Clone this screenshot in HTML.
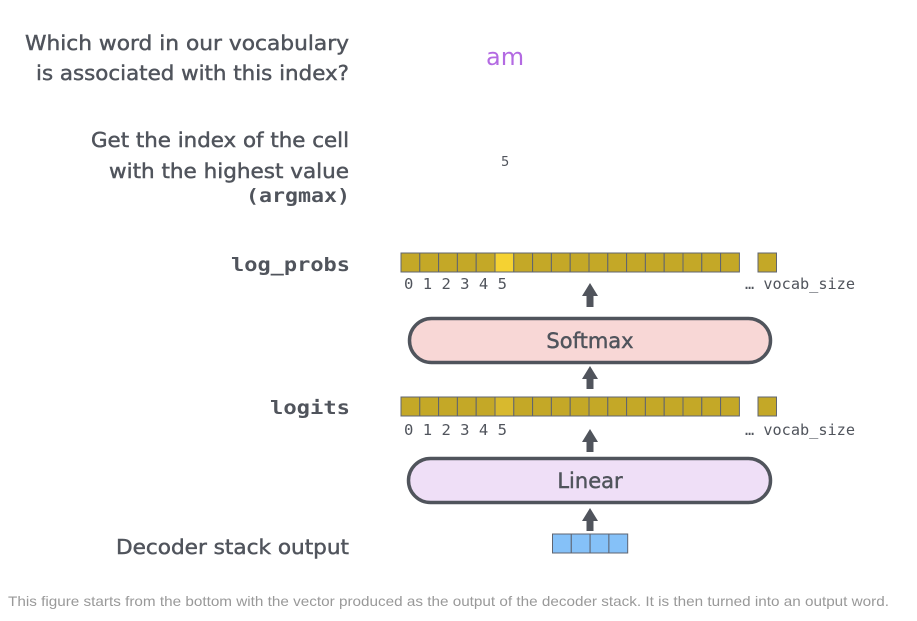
<!DOCTYPE html>
<html><head><meta charset="utf-8"><style>
html,body{margin:0;padding:0;background:#fff;width:917px;height:621px;overflow:hidden}
</style></head><body>
<svg width="917" height="621" viewBox="0 0 917 621" xmlns="http://www.w3.org/2000/svg">
<g font-family="'DejaVu Sans', sans-serif" fill="#50545c" stroke="#50545c" stroke-width="0.45" font-size="20" text-anchor="end">
<text x="349" y="50" textLength="324" lengthAdjust="spacingAndGlyphs">Which word in our vocabulary</text>
<text x="349" y="80" textLength="313" lengthAdjust="spacingAndGlyphs">is associated with this index?</text>
<text x="349" y="147" textLength="258" lengthAdjust="spacingAndGlyphs">Get the index of the cell</text>
<text x="349" y="178" textLength="240" lengthAdjust="spacingAndGlyphs">with the highest value</text>
<text x="349" y="554" textLength="233" lengthAdjust="spacingAndGlyphs">Decoder stack output</text>
</g>
<g font-family="'DejaVu Sans Mono','Liberation Mono',monospace" font-weight="bold" fill="#50545c" font-size="19" text-anchor="end">
<text x="350" y="202" textLength="104" lengthAdjust="spacingAndGlyphs">(argmax)</text>
<text x="350" y="271" textLength="119" lengthAdjust="spacingAndGlyphs">log_probs</text>
<text x="350" y="414" textLength="80" lengthAdjust="spacingAndGlyphs">logits</text>
</g>
<text x="486" y="65" font-family="'DejaVu Sans',sans-serif" font-size="24" fill="#b36ae2">am</text>
<text x="501" y="166" font-family="'DejaVu Sans',sans-serif" font-size="13" fill="#50545c">5</text>

<g stroke="#5f6470" stroke-width="1">
<g fill="#c4a827">
<rect x="401" y="253" width="18.8" height="19"/><rect x="419.8" y="253" width="18.8" height="19"/><rect x="438.6" y="253" width="18.8" height="19"/><rect x="457.4" y="253" width="18.8" height="19"/><rect x="476.2" y="253" width="18.8" height="19"/>
<rect x="495" y="253" width="18.8" height="19" fill="#f5d232"/>
<rect x="513.8" y="253" width="18.8" height="19"/><rect x="532.6" y="253" width="18.8" height="19"/><rect x="551.4" y="253" width="18.8" height="19"/><rect x="570.2" y="253" width="18.8" height="19"/><rect x="589" y="253" width="18.8" height="19"/><rect x="607.8" y="253" width="18.8" height="19"/><rect x="626.6" y="253" width="18.8" height="19"/><rect x="645.4" y="253" width="18.8" height="19"/><rect x="664.2" y="253" width="18.8" height="19"/><rect x="683" y="253" width="18.8" height="19"/><rect x="701.8" y="253" width="18.8" height="19"/><rect x="720.6" y="253" width="18.8" height="19"/>
<rect x="758" y="253" width="18.5" height="19"/>
</g>
<g fill="#c4a827">
<rect x="401" y="397" width="18.8" height="19"/><rect x="419.8" y="397" width="18.8" height="19"/><rect x="438.6" y="397" width="18.8" height="19"/><rect x="457.4" y="397" width="18.8" height="19"/><rect x="476.2" y="397" width="18.8" height="19"/>
<rect x="495" y="397" width="18.8" height="19" fill="#d8b92e"/>
<rect x="513.8" y="397" width="18.8" height="19"/><rect x="532.6" y="397" width="18.8" height="19"/><rect x="551.4" y="397" width="18.8" height="19"/><rect x="570.2" y="397" width="18.8" height="19"/><rect x="589" y="397" width="18.8" height="19"/><rect x="607.8" y="397" width="18.8" height="19"/><rect x="626.6" y="397" width="18.8" height="19"/><rect x="645.4" y="397" width="18.8" height="19"/><rect x="664.2" y="397" width="18.8" height="19"/><rect x="683" y="397" width="18.8" height="19"/><rect x="701.8" y="397" width="18.8" height="19"/><rect x="720.6" y="397" width="18.8" height="19"/>
<rect x="758" y="397" width="18.5" height="19"/>
</g>
<g fill="#85c1f8">
<rect x="552.5" y="534" width="18.8" height="19"/><rect x="571.3" y="534" width="18.8" height="19"/><rect x="590.1" y="534" width="18.8" height="19"/><rect x="608.9" y="534" width="18.8" height="19"/>
</g>
</g>

<g font-family="'DejaVu Sans Mono','Liberation Mono',monospace" font-size="15" fill="#50545c">
<text x="404" y="289" textLength="103" lengthAdjust="spacingAndGlyphs">0 1 2 3 4 5</text>
<text x="745" y="289" textLength="110" lengthAdjust="spacingAndGlyphs">… vocab_size</text>
<text x="404" y="435" textLength="103" lengthAdjust="spacingAndGlyphs">0 1 2 3 4 5</text>
<text x="745" y="435" textLength="110" lengthAdjust="spacingAndGlyphs">… vocab_size</text>
</g>

<rect x="409.5" y="318.5" width="361" height="44" rx="22" fill="#f8d7d6" stroke="#50545c" stroke-width="3.5"/>
<text x="590" y="348" text-anchor="middle" font-family="'DejaVu Sans',sans-serif" font-size="21" fill="#50545c" stroke="#50545c" stroke-width="0.45">Softmax</text>
<rect x="408.5" y="458.5" width="362" height="44" rx="22" fill="#efdff7" stroke="#50545c" stroke-width="3.5"/>
<text x="590" y="488" text-anchor="middle" font-family="'DejaVu Sans',sans-serif" font-size="21" fill="#50545c" stroke="#50545c" stroke-width="0.45">Linear</text>

<g fill="#50545c">
<polygon points="590,283 582,296 586.5,296 586.5,307 593.5,307 593.5,296 598,296"/>
<polygon points="590,366 582,379 586.5,379 586.5,389 593.5,389 593.5,379 598,379"/>
<polygon points="590,429 582,442 586.5,442 586.5,452 593.5,452 593.5,442 598,442"/>
<polygon points="590,508 582,521 586.5,521 586.5,531 593.5,531 593.5,521 598,521"/>
</g>

<text x="8" y="606" font-family="'Liberation Sans',sans-serif" font-size="14" fill="#999" textLength="881" lengthAdjust="spacingAndGlyphs">This figure starts from the bottom with the vector produced as the output of the decoder stack. It is then turned into an output word.</text>
</svg>
</body></html>
